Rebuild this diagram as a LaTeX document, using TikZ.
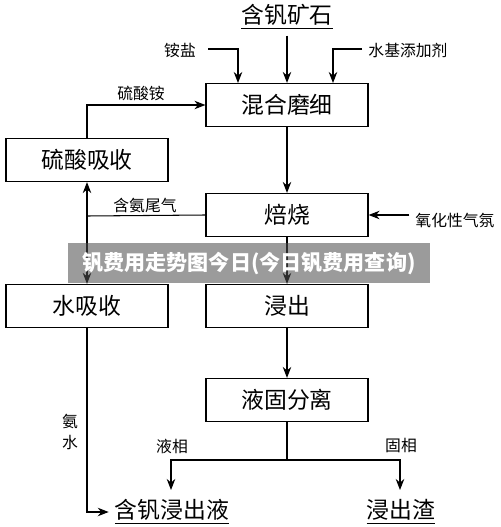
\documentclass[tikz,border=0pt]{standalone}
\usepackage{fontspec}
\newfontfamily\cjk{Noto Sans CJK SC}
\usetikzlibrary{arrows.meta}
\tikzset{
  proc/.style={draw, line width=0.7pt, minimum width=3.24cm, minimum height=0.86cm, font=\cjk\fontsize{13}{15}\selectfont},
  prod/.style={font=\cjk\fontsize{13}{15}\selectfont},
  lbl/.style={font=\cjk\fontsize{9}{11.5}\selectfont},
  flow/.style={line width=0.6pt, -{Stealth[length=2.2mm,width=1.7mm]}},
  link/.style={line width=0.6pt}
}
\begin{document}
\begin{tikzpicture}[x=0.02cm,y=-0.02cm]
            \useasboundingbox (0,0) rectangle (500,527);
            % Etapas del proceso
            \node[proc] (mix) at (287,105) {混合磨细};
            \node[proc] (acid) at (87,160) {硫酸吸收};
            \node[proc] (roast) at (287,215) {焙烧};
            \node[proc] (wabs) at (87,306) {水吸收};
            \node[proc] (leach) at (287,306) {浸出};
            \node[proc] (sep) at (287,400) {液固分离};

            % Entradas y productos
            \node[prod] (ore) at (287,17) {\underline{含钒矿石}};
            \node[lbl] (salt) at (180,50) {铵盐};
            \node[lbl] (addit) at (408,50) {水基添加剂};
            \node[lbl] (oxy) at (455,220) {氧化性气氛};
            \node[prod] (liq) at (172,512) {\underline{含钒浸出液}};
            \node[prod] (slag) at (401,512) {\underline{浸出渣}};

            % Rotulos de las lineas
            \node[lbl] (lsa) at (141,93) {硫酸铵};
            \node[lbl] (lgas) at (145,205) {含氨尾气};
            \node[lbl, align=center] (lnh) at (70,432) {氨\\水};
            \node[lbl] (lliq) at (172,446) {液相};
            \node[lbl] (lsol) at (401,446) {固相};

            % Puntos de paso
            \coordinate (c1) at (208,49);
            \coordinate (m1) at (238,83);
            \coordinate (c2) at (362,49);
            \coordinate (m3) at (333,83);
            \coordinate (jn) at (87,216);
            \coordinate (sp) at (287,460);
            \coordinate (lt) at (171,490);
            \coordinate (rt) at (400,490);

            % Flechas
            \draw[flow] (ore) -- (mix);
            \draw[flow] (c1) -| (m1);
            \draw[flow] (c2) -| (m3);
            \draw[flow] (acid.north) |- (mix.west);
            \draw[flow] (mix) -- (roast);
            \draw[flow] (oxy.west |- roast.east) -- (roast.east);
            \draw[link] (roast.west) -- (jn);
            \draw[flow] (jn) -- (acid.south);
            \draw[flow] (jn) -- (wabs.north);
            \draw[flow] (roast) -- (leach);
            \draw[flow] (leach) -- (sep);
            \draw[flow] (wabs.south) |- (liq.west);
            \draw[link] (sep.south) -- (sp);
            \draw[flow] (sp) -| (lt);
            \draw[flow] (sp) -| (rt);

            % Marca de agua
            \node[fill=black!69, fill opacity=0.57, text opacity=1, text=white, minimum width=7.24cm, minimum height=0.8cm, font=\cjk\bfseries\fontsize{12}{14}\selectfont] (mark) at (249,263) {钒费用走势图今日(今日钒费用查询)};
        \end{tikzpicture}
\end{document}
